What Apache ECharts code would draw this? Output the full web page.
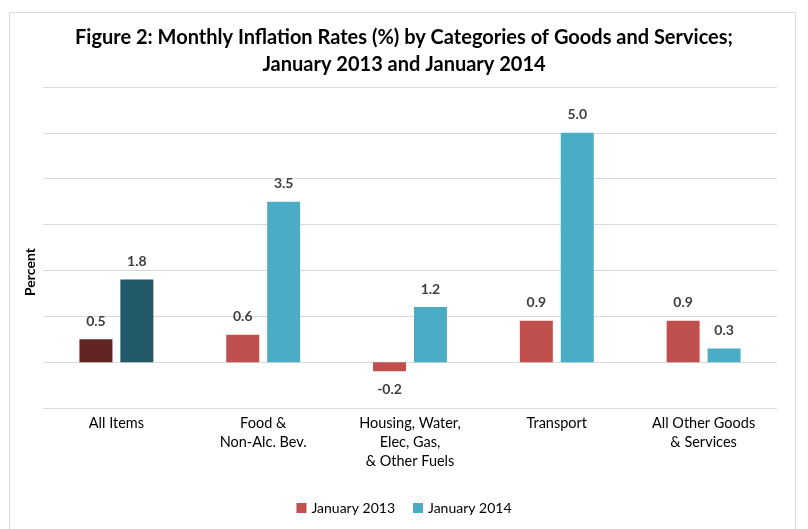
<!DOCTYPE html>
<html><head><meta charset="utf-8">
<script src="https://cdn.jsdelivr.net/npm/echarts@6/dist/echarts.min.js"></script>
<style>html,body{margin:0;padding:0;background:#fff}#c{width:808px;height:529px}</style>
</head><body><div id="c"></div>
<script>
const categories = ["All Items", "Food &\nNon-Alc. Bev.", "Housing, Water,\nElec, Gas,\n& Other Fuels", "Transport", "All Other Goods\n& Services"];
const jan2013 = [0.5, 0.6, -0.2, 0.9, 0.9];
const jan2014 = [1.8, 3.5, 1.2, 5.0, 0.3];
const seriesNames = ["January 2013", "January 2014"];

const colors2013 = ["#632523", "#C0504D", "#C0504D", "#C0504D", "#C0504D"];
const colors2014 = ["#215968", "#4BACC6", "#4BACC6", "#4BACC6", "#4BACC6"];
const FONT = "Lato";

function mk(vals, cols) {
  return vals.map((v, i) => ({
    value: v,
    itemStyle: { color: cols[i] },
    label: { position: v < 0 ? 'bottom' : 'top' }
  }));
}
const chart = echarts.init(document.getElementById('c'), null, { renderer: 'canvas' });
chart.setOption({
  animation: false,
  textStyle: { fontFamily: FONT },
  title: {
    text: "Figure 2: Monthly Inflation Rates (%) by Categories of Goods and Services;\nJanuary 2013 and January 2014",
    left: 'center', top: 19,
    textStyle: { fontFamily: FONT, fontWeight: 'bold', fontSize: 20, color: '#000', lineHeight: 27 }
  },
  graphic: [{
    type: 'rect', shape: { x: 9.5, y: 12.5, width: 786, height: 530 },
    style: { fill: 'none', stroke: '#d9d9d9', lineWidth: 1 }, silent: true
  }, {
    type: 'text', x: 30, y: 272, rotation: Math.PI / 2,
    style: { text: 'Percent', fontFamily: FONT, fontWeight: 'bold', fontSize: 14, fill: '#000', align: 'center', verticalAlign: 'middle' },
    silent: true
  }],
  legend: {
    bottom: 9, left: 'center', itemWidth: 10, itemHeight: 10, itemGap: 18,
    icon: 'rect',
    textStyle: { fontFamily: FONT, fontSize: 14, color: '#000' },
    data: [{ name: seriesNames[0], itemStyle: { color: '#C0504D' } }, { name: seriesNames[1], itemStyle: { color: '#4BACC6' } }]
  },
  grid: { left: 43, right: 31, top: 87, bottom: 121, containLabel: false },
  xAxis: {
    type: 'category', data: categories,
    axisLine: { show: false }, axisTick: { show: false },
    axisLabel: { fontFamily: FONT, fontSize: 14.5, color: '#000', lineHeight: 19, margin: 6, interval: 0 }
  },
  yAxis: {
    type: 'value', min: -1, max: 6, interval: 1,
    axisLabel: { show: false }, axisLine: { show: false }, axisTick: { show: false },
    splitLine: { lineStyle: { color: '#d9d9d9', width: 1 } }
  },
  series: [
    { name: seriesNames[0], type: 'bar', data: mk(jan2013, colors2013), barWidth: 33, barGap: '24%',
      itemStyle: { color: '#C0504D' },
      label: { show: true, fontFamily: FONT, fontWeight: 'bold', fontSize: 14, color: '#404040', distance: 11, formatter: p => p.value.toFixed(1) } },
    { name: seriesNames[1], type: 'bar', data: mk(jan2014, colors2014), barWidth: 33,
      itemStyle: { color: '#4BACC6' },
      label: { show: true, fontFamily: FONT, fontWeight: 'bold', fontSize: 14, color: '#404040', distance: 11, formatter: p => p.value.toFixed(1) } }
  ]
});
</script></body></html>
